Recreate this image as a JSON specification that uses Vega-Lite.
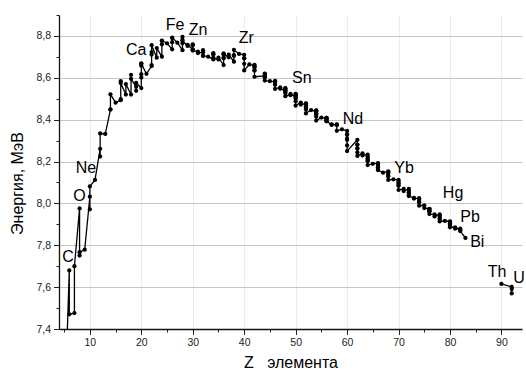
{
  "$schema": "https://vega.github.io/schema/vega-lite/v6.json",
  "width": 463,
  "height": 314,
  "autosize": {"type": "none"},
  "padding": {"left": 59, "top": 15, "right": 4, "bottom": 43},
  "background": "white",
  "config": {"view": {"stroke": null}, "font": "Liberation Sans"},
  "datasets": {
    "iso": [
      {"Z":5,"A":10,"E":6.475,"group":1},{"Z":5,"A":11,"E":6.928,"group":1},
      {"Z":6,"A":12,"E":7.680,"group":1},{"Z":6,"A":13,"E":7.470,"group":1},
      {"Z":7,"A":14,"E":7.476,"group":1},{"Z":7,"A":15,"E":7.700,"group":1},
      {"Z":8,"A":16,"E":7.976,"group":1},{"Z":8,"A":17,"E":7.751,"group":1},{"Z":8,"A":18,"E":7.767,"group":1},
      {"Z":9,"A":19,"E":7.779,"group":1},
      {"Z":10,"A":20,"E":8.032,"group":1},{"Z":10,"A":21,"E":7.972,"group":1},{"Z":10,"A":22,"E":8.081,"group":1},
      {"Z":11,"A":23,"E":8.112,"group":1},
      {"Z":12,"A":24,"E":8.261,"group":1},{"Z":12,"A":25,"E":8.224,"group":1},{"Z":12,"A":26,"E":8.334,"group":1},
      {"Z":13,"A":27,"E":8.332,"group":1},
      {"Z":14,"A":28,"E":8.448,"group":1},{"Z":14,"A":29,"E":8.449,"group":1},{"Z":14,"A":30,"E":8.521,"group":1},
      {"Z":15,"A":31,"E":8.481,"group":1},
      {"Z":16,"A":32,"E":8.493,"group":1},{"Z":16,"A":33,"E":8.498,"group":1},{"Z":16,"A":34,"E":8.584,"group":1},{"Z":16,"A":36,"E":8.575,"group":1},
      {"Z":17,"A":35,"E":8.520,"group":1},{"Z":17,"A":37,"E":8.570,"group":1},
      {"Z":18,"A":36,"E":8.520,"group":1},{"Z":18,"A":38,"E":8.614,"group":1},{"Z":18,"A":40,"E":8.595,"group":1},
      {"Z":19,"A":39,"E":8.557,"group":1},{"Z":19,"A":40,"E":8.538,"group":1},{"Z":19,"A":41,"E":8.576,"group":1},
      {"Z":20,"A":40,"E":8.551,"group":1},{"Z":20,"A":42,"E":8.617,"group":1},{"Z":20,"A":43,"E":8.601,"group":1},{"Z":20,"A":44,"E":8.658,"group":1},{"Z":20,"A":46,"E":8.669,"group":1},{"Z":20,"A":48,"E":8.667,"group":1},
      {"Z":21,"A":45,"E":8.619,"group":1},
      {"Z":22,"A":46,"E":8.656,"group":1},{"Z":22,"A":47,"E":8.661,"group":1},{"Z":22,"A":48,"E":8.723,"group":1},{"Z":22,"A":49,"E":8.711,"group":1},{"Z":22,"A":50,"E":8.756,"group":1},
      {"Z":23,"A":50,"E":8.696,"group":1},{"Z":23,"A":51,"E":8.742,"group":1},
      {"Z":24,"A":50,"E":8.701,"group":1},{"Z":24,"A":52,"E":8.776,"group":1},{"Z":24,"A":53,"E":8.760,"group":1},{"Z":24,"A":54,"E":8.778,"group":1},
      {"Z":25,"A":55,"E":8.765,"group":1},
      {"Z":26,"A":54,"E":8.736,"group":1},{"Z":26,"A":56,"E":8.790,"group":1},{"Z":26,"A":57,"E":8.770,"group":1},{"Z":26,"A":58,"E":8.792,"group":1},
      {"Z":27,"A":59,"E":8.768,"group":1},
      {"Z":28,"A":58,"E":8.732,"group":1},{"Z":28,"A":60,"E":8.781,"group":1},{"Z":28,"A":61,"E":8.765,"group":1},{"Z":28,"A":62,"E":8.795,"group":1},{"Z":28,"A":64,"E":8.777,"group":1},
      {"Z":29,"A":63,"E":8.752,"group":1},{"Z":29,"A":65,"E":8.757,"group":1},
      {"Z":30,"A":64,"E":8.736,"group":1},{"Z":30,"A":66,"E":8.760,"group":1},{"Z":30,"A":67,"E":8.734,"group":1},{"Z":30,"A":68,"E":8.756,"group":1},{"Z":30,"A":70,"E":8.730,"group":1},
      {"Z":31,"A":69,"E":8.725,"group":1},{"Z":31,"A":71,"E":8.718,"group":1},
      {"Z":32,"A":70,"E":8.722,"group":1},{"Z":32,"A":72,"E":8.732,"group":1},{"Z":32,"A":73,"E":8.705,"group":1},{"Z":32,"A":74,"E":8.725,"group":1},{"Z":32,"A":76,"E":8.705,"group":1},
      {"Z":33,"A":75,"E":8.701,"group":1},
      {"Z":34,"A":74,"E":8.688,"group":1},{"Z":34,"A":76,"E":8.712,"group":1},{"Z":34,"A":77,"E":8.695,"group":1},{"Z":34,"A":78,"E":8.718,"group":1},{"Z":34,"A":80,"E":8.711,"group":1},{"Z":34,"A":82,"E":8.693,"group":1},
      {"Z":35,"A":79,"E":8.688,"group":1},{"Z":35,"A":81,"E":8.696,"group":1},
      {"Z":36,"A":78,"E":8.661,"group":1},{"Z":36,"A":80,"E":8.693,"group":1},{"Z":36,"A":82,"E":8.711,"group":1},{"Z":36,"A":83,"E":8.696,"group":1},{"Z":36,"A":84,"E":8.717,"group":1},{"Z":36,"A":86,"E":8.712,"group":1},
      {"Z":37,"A":85,"E":8.698,"group":1},{"Z":37,"A":87,"E":8.711,"group":1},
      {"Z":38,"A":84,"E":8.677,"group":1},{"Z":38,"A":86,"E":8.708,"group":1},{"Z":38,"A":87,"E":8.705,"group":1},{"Z":38,"A":88,"E":8.733,"group":1},
      {"Z":39,"A":89,"E":8.714,"group":1},
      {"Z":40,"A":90,"E":8.710,"group":1},{"Z":40,"A":91,"E":8.693,"group":1},{"Z":40,"A":92,"E":8.693,"group":1},{"Z":40,"A":94,"E":8.667,"group":1},{"Z":40,"A":96,"E":8.635,"group":1},
      {"Z":41,"A":93,"E":8.664,"group":1},
      {"Z":42,"A":92,"E":8.658,"group":1},{"Z":42,"A":94,"E":8.662,"group":1},{"Z":42,"A":95,"E":8.649,"group":1},{"Z":42,"A":96,"E":8.654,"group":1},{"Z":42,"A":97,"E":8.635,"group":1},{"Z":42,"A":98,"E":8.635,"group":1},{"Z":42,"A":100,"E":8.605,"group":1},
      {"Z":44,"A":96,"E":8.609,"group":1},{"Z":44,"A":98,"E":8.620,"group":1},{"Z":44,"A":99,"E":8.609,"group":1},{"Z":44,"A":100,"E":8.619,"group":1},{"Z":44,"A":101,"E":8.601,"group":1},{"Z":44,"A":102,"E":8.608,"group":1},{"Z":44,"A":104,"E":8.587,"group":1},
      {"Z":45,"A":103,"E":8.584,"group":1},
      {"Z":46,"A":102,"E":8.581,"group":1},{"Z":46,"A":104,"E":8.585,"group":1},{"Z":46,"A":105,"E":8.571,"group":1},{"Z":46,"A":106,"E":8.580,"group":1},{"Z":46,"A":108,"E":8.567,"group":1},{"Z":46,"A":110,"E":8.547,"group":1},
      {"Z":47,"A":107,"E":8.554,"group":1},{"Z":47,"A":109,"E":8.548,"group":1},
      {"Z":48,"A":106,"E":8.539,"group":1},{"Z":48,"A":108,"E":8.550,"group":1},{"Z":48,"A":110,"E":8.551,"group":1},{"Z":48,"A":111,"E":8.537,"group":1},{"Z":48,"A":112,"E":8.545,"group":1},{"Z":48,"A":113,"E":8.527,"group":1},{"Z":48,"A":114,"E":8.532,"group":1},{"Z":48,"A":116,"E":8.512,"group":1},
      {"Z":49,"A":113,"E":8.523,"group":1},{"Z":49,"A":115,"E":8.517,"group":1},
      {"Z":50,"A":112,"E":8.514,"group":1},{"Z":50,"A":114,"E":8.523,"group":1},{"Z":50,"A":115,"E":8.514,"group":1},{"Z":50,"A":116,"E":8.523,"group":1},{"Z":50,"A":117,"E":8.510,"group":1},{"Z":50,"A":118,"E":8.517,"group":1},{"Z":50,"A":119,"E":8.500,"group":1},{"Z":50,"A":120,"E":8.505,"group":1},{"Z":50,"A":122,"E":8.488,"group":1},{"Z":50,"A":124,"E":8.467,"group":1},
      {"Z":51,"A":121,"E":8.482,"group":1},{"Z":51,"A":123,"E":8.472,"group":1},
      {"Z":52,"A":120,"E":8.477,"group":1},{"Z":52,"A":122,"E":8.478,"group":1},{"Z":52,"A":123,"E":8.466,"group":1},{"Z":52,"A":124,"E":8.473,"group":1},{"Z":52,"A":125,"E":8.458,"group":1},{"Z":52,"A":126,"E":8.463,"group":1},{"Z":52,"A":128,"E":8.449,"group":1},{"Z":52,"A":130,"E":8.430,"group":1},
      {"Z":53,"A":127,"E":8.446,"group":1},
      {"Z":54,"A":124,"E":8.438,"group":1},{"Z":54,"A":126,"E":8.444,"group":1},{"Z":54,"A":128,"E":8.443,"group":1},{"Z":54,"A":129,"E":8.431,"group":1},{"Z":54,"A":130,"E":8.438,"group":1},{"Z":54,"A":131,"E":8.424,"group":1},{"Z":54,"A":132,"E":8.428,"group":1},{"Z":54,"A":134,"E":8.414,"group":1},{"Z":54,"A":136,"E":8.396,"group":1},
      {"Z":55,"A":133,"E":8.410,"group":1},
      {"Z":56,"A":130,"E":8.406,"group":1},{"Z":56,"A":132,"E":8.409,"group":1},{"Z":56,"A":134,"E":8.408,"group":1},{"Z":56,"A":135,"E":8.398,"group":1},{"Z":56,"A":136,"E":8.403,"group":1},{"Z":56,"A":137,"E":8.392,"group":1},{"Z":56,"A":138,"E":8.394,"group":1},
      {"Z":57,"A":138,"E":8.375,"group":1},{"Z":57,"A":139,"E":8.378,"group":1},
      {"Z":58,"A":136,"E":8.374,"group":1},{"Z":58,"A":138,"E":8.377,"group":1},{"Z":58,"A":140,"E":8.376,"group":1},{"Z":58,"A":142,"E":8.347,"group":1},
      {"Z":59,"A":141,"E":8.354,"group":1},
      {"Z":60,"A":142,"E":8.346,"group":1},{"Z":60,"A":143,"E":8.330,"group":1},{"Z":60,"A":144,"E":8.327,"group":1},{"Z":60,"A":145,"E":8.309,"group":1},{"Z":60,"A":146,"E":8.304,"group":1},{"Z":60,"A":148,"E":8.277,"group":1},{"Z":60,"A":150,"E":8.250,"group":1},
      {"Z":62,"A":144,"E":8.304,"group":1},{"Z":62,"A":147,"E":8.281,"group":1},{"Z":62,"A":148,"E":8.280,"group":1},{"Z":62,"A":149,"E":8.263,"group":1},{"Z":62,"A":150,"E":8.262,"group":1},{"Z":62,"A":152,"E":8.244,"group":1},{"Z":62,"A":154,"E":8.227,"group":1},
      {"Z":63,"A":151,"E":8.239,"group":1},{"Z":63,"A":153,"E":8.229,"group":1},
      {"Z":64,"A":152,"E":8.233,"group":1},{"Z":64,"A":154,"E":8.225,"group":1},{"Z":64,"A":155,"E":8.213,"group":1},{"Z":64,"A":156,"E":8.215,"group":1},{"Z":64,"A":157,"E":8.204,"group":1},{"Z":64,"A":158,"E":8.202,"group":1},{"Z":64,"A":160,"E":8.183,"group":1},
      {"Z":65,"A":159,"E":8.189,"group":1},
      {"Z":66,"A":156,"E":8.192,"group":1},{"Z":66,"A":158,"E":8.190,"group":1},{"Z":66,"A":160,"E":8.184,"group":1},{"Z":66,"A":161,"E":8.173,"group":1},{"Z":66,"A":162,"E":8.174,"group":1},{"Z":66,"A":163,"E":8.162,"group":1},{"Z":66,"A":164,"E":8.159,"group":1},
      {"Z":67,"A":165,"E":8.147,"group":1},
      {"Z":68,"A":162,"E":8.153,"group":1},{"Z":68,"A":164,"E":8.149,"group":1},{"Z":68,"A":166,"E":8.142,"group":1},{"Z":68,"A":167,"E":8.132,"group":1},{"Z":68,"A":168,"E":8.130,"group":1},{"Z":68,"A":170,"E":8.112,"group":1},
      {"Z":69,"A":169,"E":8.115,"group":1},
      {"Z":70,"A":168,"E":8.112,"group":1},{"Z":70,"A":170,"E":8.107,"group":1},{"Z":70,"A":171,"E":8.098,"group":1},{"Z":70,"A":172,"E":8.097,"group":1},{"Z":70,"A":173,"E":8.088,"group":1},{"Z":70,"A":174,"E":8.084,"group":1},{"Z":70,"A":176,"E":8.064,"group":1},
      {"Z":71,"A":175,"E":8.069,"group":1},{"Z":71,"A":176,"E":8.059,"group":1},
      {"Z":72,"A":174,"E":8.069,"group":1},{"Z":72,"A":176,"E":8.061,"group":1},{"Z":72,"A":177,"E":8.052,"group":1},{"Z":72,"A":178,"E":8.050,"group":1},{"Z":72,"A":179,"E":8.039,"group":1},{"Z":72,"A":180,"E":8.035,"group":1},
      {"Z":73,"A":180,"E":8.026,"group":1},{"Z":73,"A":181,"E":8.023,"group":1},
      {"Z":74,"A":180,"E":8.025,"group":1},{"Z":74,"A":182,"E":8.018,"group":1},{"Z":74,"A":183,"E":8.008,"group":1},{"Z":74,"A":184,"E":8.005,"group":1},{"Z":74,"A":186,"E":7.989,"group":1},
      {"Z":75,"A":185,"E":7.991,"group":1},{"Z":75,"A":187,"E":7.978,"group":1},
      {"Z":76,"A":184,"E":7.973,"group":1},{"Z":76,"A":186,"E":7.973,"group":1},{"Z":76,"A":187,"E":7.964,"group":1},{"Z":76,"A":188,"E":7.974,"group":1},{"Z":76,"A":189,"E":7.963,"group":1},{"Z":76,"A":190,"E":7.962,"group":1},{"Z":76,"A":192,"E":7.949,"group":1},
      {"Z":77,"A":191,"E":7.948,"group":1},{"Z":77,"A":193,"E":7.938,"group":1},
      {"Z":78,"A":190,"E":7.947,"group":1},{"Z":78,"A":192,"E":7.942,"group":1},{"Z":78,"A":194,"E":7.936,"group":1},{"Z":78,"A":195,"E":7.927,"group":1},{"Z":78,"A":196,"E":7.927,"group":1},{"Z":78,"A":198,"E":7.914,"group":1},
      {"Z":79,"A":197,"E":7.916,"group":1},
      {"Z":80,"A":196,"E":7.914,"group":1},{"Z":80,"A":198,"E":7.912,"group":1},{"Z":80,"A":199,"E":7.905,"group":1},{"Z":80,"A":200,"E":7.906,"group":1},{"Z":80,"A":201,"E":7.898,"group":1},{"Z":80,"A":202,"E":7.897,"group":1},{"Z":80,"A":204,"E":7.886,"group":1},
      {"Z":81,"A":203,"E":7.886,"group":1},{"Z":81,"A":205,"E":7.879,"group":1},
      {"Z":82,"A":204,"E":7.880,"group":1},{"Z":82,"A":206,"E":7.875,"group":1},{"Z":82,"A":207,"E":7.870,"group":1},{"Z":82,"A":208,"E":7.868,"group":1},
      {"Z":83,"A":209,"E":7.835,"group":1},
      {"Z":90,"A":232,"E":7.615,"group":2},
      {"Z":92,"A":234,"E":7.601,"group":2},{"Z":92,"A":235,"E":7.591,"group":2},{"Z":92,"A":238,"E":7.570,"group":2}
    ],
    "lab": [
      {"Z":5.75,"E":7.744,"name":"C"},
      {"Z":8.0,"E":8.035,"name":"O"},
      {"Z":9.25,"E":8.169,"name":"Ne"},
      {"Z":19.0,"E":8.733,"name":"Ca"},
      {"Z":26.55,"E":8.852,"name":"Fe"},
      {"Z":31.02,"E":8.828,"name":"Zn"},
      {"Z":40.4,"E":8.79,"name":"Zr"},
      {"Z":51.2,"E":8.599,"name":"Sn"},
      {"Z":61.15,"E":8.403,"name":"Nd"},
      {"Z":71.07,"E":8.169,"name":"Yb"},
      {"Z":80.6,"E":8.05,"name":"Hg"},
      {"Z":83.9,"E":7.935,"name":"Pb"},
      {"Z":85.3,"E":7.816,"name":"Bi"},
      {"Z":89.15,"E":7.672,"name":"Th"},
      {"Z":93.4,"E":7.644,"name":"U"}
    ]
  },
  "encoding": {
    "x": {
      "field": "Z", "type": "quantitative",
      "scale": {"domain": [4, 94], "nice": false, "zero": false},
      "axis": {
        "values": [5,10,15,20,25,30,35,40,45,50,55,60,65,70,75,80,85,90],
        "labelExpr": "datum.value % 10 === 0 ? format(datum.value, 'd') : ''",
        "title": "Z\u00a0\u00a0 элемента",
        "titleFont": "Liberation Sans", "titleFontSize": 16, "titleFontWeight": "normal", "titleColor": "#000",
        "titlePadding": 6,
        "labelFont": "Liberation Sans", "labelFontSize": 10.5, "labelColor": "#222", "labelPadding": 3,
        "labelOverlap": false, "labelFlush": false,
        "tickColor": "#222", "tickWidth": 1,
        "tickSize": {"condition": {"test": "datum.value % 10 !== 0", "value": 3}, "value": 5.5},
        "domainColor": "#111", "domainWidth": 1.3,
        "grid": true, "gridColor": "#ececec", "gridWidth": 1,
        "gridOpacity": {"condition": {"test": "datum.value % 10 !== 0", "value": 0}, "value": 1}
      }
    },
    "y": {
      "field": "E", "type": "quantitative",
      "scale": {"domain": [7.4, 8.9], "nice": false, "zero": false},
      "axis": {
        "values": [7.4,7.5,7.6,7.7,7.8,7.9,8.0,8.1,8.2,8.3,8.4,8.5,8.6,8.7,8.8,8.9],
        "labelExpr": "round(datum.value*10) % 2 === 0 ? replace(format(datum.value, '.1f'), '.', ',') : ''",
        "title": "Энергия, МэВ",
        "titleFont": "Liberation Sans", "titleFontSize": 16, "titleFontWeight": "normal", "titleColor": "#000",
        "titlePadding": 10, "titleY": 168,
        "labelFont": "Liberation Sans", "labelFontSize": 10.5, "labelColor": "#222", "labelPadding": 3,
        "labelOverlap": false, "labelFlush": false,
        "tickColor": "#222", "tickWidth": 1,
        "tickSize": {"condition": {"test": "round(datum.value*10) % 2 === 1", "value": 3}, "value": 5.5},
        "domainColor": "#111", "domainWidth": 1.3,
        "grid": true, "gridColor": "#c4c4c4", "gridWidth": 1,
        "gridOpacity": {"condition": {"test": "round(datum.value*10) % 2 === 1", "value": 0}, "value": 1}
      }
    }
  },
  "layer": [
    {
      "data": {"name": "iso"},
      "mark": {"type": "line", "color": "#000", "strokeWidth": 1.3, "clip": true},
      "encoding": {
        "detail": {"field": "group", "type": "nominal"},
        "order": [{"field": "Z", "type": "quantitative"}, {"field": "A", "type": "quantitative"}]
      }
    },
    {
      "data": {"name": "iso"},
      "mark": {"type": "circle", "color": "#000", "opacity": 1, "size": 18, "clip": true},
      "encoding": {}
    },
    {
      "data": {"name": "lab"},
      "mark": {"type": "text", "font": "Liberation Sans", "fontSize": 16, "color": "#000", "align": "center", "baseline": "middle"},
      "encoding": {"text": {"field": "name", "type": "nominal"}}
    }
  ]
}
